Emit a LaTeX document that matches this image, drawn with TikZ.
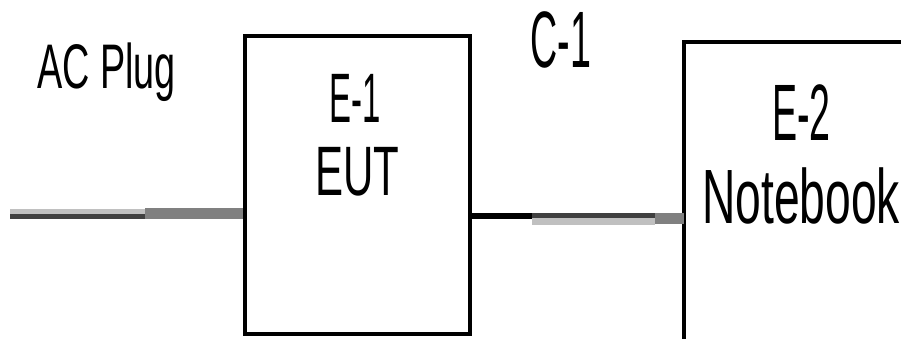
\documentclass[tikz,border=0pt]{standalone}
\usepackage{fontspec}
\newfontfamily\narrow[FakeStretch=0.6]{Liberation Sans}
\newfontfamily\tagfont[FakeStretch=0.47]{Liberation Sans}
\definecolor{cdark}{HTML}{404040}
\definecolor{clight}{HTML}{C0C0C0}
\definecolor{cmid}{HTML}{808080}
\begin{document}
\begin{tikzpicture}[x=1pt,y=-1pt,
  box/.style={draw=black,line width=4pt,inner sep=0pt},
  lbl/.style={inner sep=0pt,anchor=base},
  wire/.style={line width=#1,line cap=butt},
]
\useasboundingbox (0,0) rectangle (901,338);
\clip (0,0) rectangle (901,338);
% equipment boxes
\node[box,minimum width=225pt,minimum height=298pt] (e1) at (357,185) {};
\path (684,41.5) coordinate (e2nw) (910,350) coordinate (e2se);
\draw[line width=4pt] (e2se) |- (e2nw) |- (e2se);
\coordinate (e2w) at (684,218.5);
% labels
\node[lbl,font=\narrow\fontsize{63}{63}\selectfont] (acplug) at (106.5,88) {AC Plug};
\node[lbl,font=\tagfont\fontsize{80}{80}\selectfont] (c1) at (561,67) {C-1};
\node[lbl,font=\tagfont\fontsize{70}{70}\selectfont] (e1a) at (355,122) {E-1};
\node[lbl,font=\narrow\fontsize{70}{70}\selectfont] (e1b) at (357,195) {EUT};
\node[lbl,font=\tagfont\fontsize{80}{80}\selectfont] (e2a) at (801.5,140) {E-2};
\node[lbl,font=\narrow\fontsize{77}{77}\selectfont] (e2b) at (801,223) {Notebook};
% AC power cable
\coordinate (plugend) at (10,213.5);
\coordinate (plugmid) at (145,213.5);
\draw[wire=5pt,cdark] ([yshift=-2.5pt]plugend) -- ([yshift=-2.5pt]plugmid);
\draw[wire=5pt,clight] ([yshift=2.5pt]plugend) -- ([yshift=2.5pt]plugmid);
\draw[wire=11pt,cmid] (plugmid) -- (plugmid -| e1.west);
% cable C-1
\coordinate (c1a) at (e1.east |- 0,216);
\coordinate (c1b) at (532,216);
\coordinate (c1c) at (655,218.5);
\draw[wire=6pt,black] (c1a) -- (c1b);
\draw[wire=5pt,cdark] (532,215.5) -- (655,215.5);
\draw[wire=7pt,clight] (532,221.5) -- (655,221.5);
\draw[wire=11pt,cmid] (c1c) -- (e2w);
\end{tikzpicture}
\end{document}
